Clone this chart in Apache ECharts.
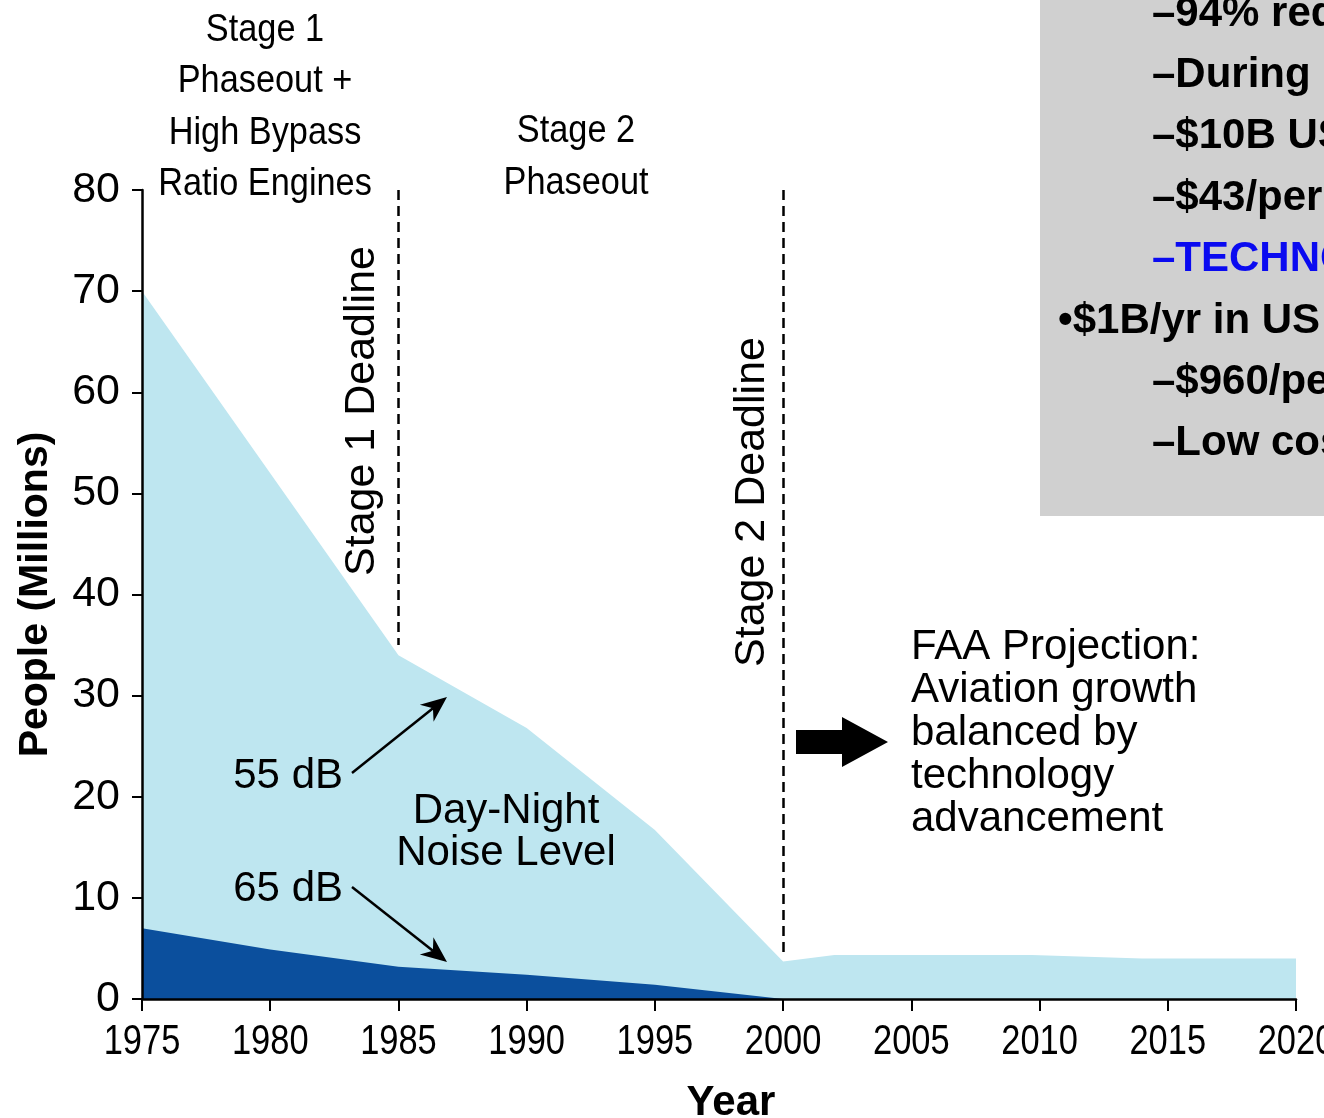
<!DOCTYPE html>
<html>
<head>
<meta charset="utf-8">
<title>People exposed to aircraft noise</title>
<script src="https://cdn.jsdelivr.net/npm/echarts@6/dist/echarts.min.js"></script>
<style>
  html, body { margin: 0; padding: 0; background: #fff; }
  #main { width: 1324px; height: 1118px; }
</style>
</head>
<body>
<div id="main"></div>
<script>
// 55 dB contour (light area), years and people in millions
var years55 = [1975, 1985, 1990, 1995, 2000, 2002, 2009.7, 2014, 2020];
var people55 = [70, 34, 26.8, 16.7, 3.7, 4.35, 4.35, 4.0, 4.0];
// 65 dB contour (dark area)
var years65 = [1975, 1980, 1985, 1990, 1995, 2000];
var people65 = [7.0, 4.9, 3.2, 2.4, 1.4, 0];
// deadlines (dashed verticals): year, lower end, upper end
var deadlineYears = [1985, 2000];
var deadlineLow = [35, 4.6];
var deadlineHigh = [80, 80];
// x tick labels
var yearTicks = [1975, 1980, 1985, 1990, 1995, 2000, 2005, 2010, 2015, 2020];

var boxLines = [
  '\u201394% reduction',
  '\u2013During 1975',
  '\u2013$10B US',
  '\u2013$43/person',
  '\u2013TECHNOLOGY',
  '\u2022$1B/yr in US',
  '\u2013$960/person',
  '\u2013Low cost'
];

var SANS = '"Liberation Sans", Arial, Helvetica, sans-serif';

function pairs(xs, ys) {
  var out = [];
  for (var i = 0; i < xs.length; i++) out.push([xs[i], ys[i]]);
  return out;
}

var myChart = echarts.init(document.getElementById('main'));

function txt(text, x, y, opts) {
  opts = opts || {};
  return {
    type: 'text',
    x: x, y: y,
    rotation: opts.rotation || 0,
    scaleX: opts.scaleX || 1,
    z: 100,
    style: {
      text: text,
      fill: opts.color || '#000',
      font: (opts.weight || 'normal') + ' ' + (opts.size || 42) + 'px ' + SANS,
      align: opts.align || 'center',
      verticalAlign: 'middle',
      lineHeight: opts.lineHeight || 42
    }
  };
}

function arrow(x1, y1, x2, y2) {
  var dx = x2 - x1, dy = y2 - y1;
  var len = Math.sqrt(dx * dx + dy * dy);
  var ux = dx / len, uy = dy / len;
  var hl = 26, hw = 11, notch = 8;
  var bx = x2 - ux * hl, by = y2 - uy * hl;
  var nx = x2 - ux * (hl - notch), ny = y2 - uy * (hl - notch);
  return [
    { type: 'line', z: 100, shape: { x1: x1, y1: y1, x2: nx, y2: ny },
      style: { stroke: '#000', lineWidth: 2.5 } },
    { type: 'polygon', z: 100,
      shape: { points: [[x2, y2], [bx - uy * hw, by + ux * hw], [nx, ny], [bx + uy * hw, by - ux * hw]] },
      style: { fill: '#000' } }
  ];
}

var graphics = [];
// grey text box, top right
graphics.push({ type: 'rect', z: 90, shape: { x: 1040, y: 0, width: 300, height: 516 }, style: { fill: '#d0d0d0' } });
boxLines.forEach(function (line, i) {
  var isBullet = line.charAt(0) === '\u2022';
  graphics.push(txt(line, isBullet ? 1058 : 1152, 14 + i * 61.4, {
    align: 'left', weight: 'bold', size: 42,
    color: i === 4 ? '#0a0af0' : '#000'
  }));
});

// header annotations
graphics.push(txt('Stage 1\nPhaseout +\nHigh Bypass\nRatio Engines', 265, 107, { size: 39, scaleX: 0.88, lineHeight: 51.5 }));
graphics.push(txt('Stage 2\nPhaseout', 576, 157, { size: 39, scaleX: 0.88, lineHeight: 52 }));
graphics.push(txt('Stage 1 Deadline', 362, 411, { rotation: Math.PI / 2, size: 43 }));
graphics.push(txt('Stage 2 Deadline', 752, 502, { rotation: Math.PI / 2, size: 43 }));
graphics.push(txt('55 dB', 343, 776, { align: 'right' }));
graphics.push(txt('65 dB', 343, 889, { align: 'right' }));
graphics.push(txt('Day-Night\nNoise Level', 506, 832, { lineHeight: 42 }));
graphics.push(txt('FAA Projection:\nAviation growth\nbalanced by\ntechnology\nadvancement', 911, 733, { align: 'left', lineHeight: 43 }));
graphics = graphics.concat(arrow(352, 773, 447, 697));
graphics = graphics.concat(arrow(352, 887, 447, 962));
// block arrow
graphics.push({ type: 'polygon', z: 100,
  shape: { points: [[796, 730], [842, 730], [842, 717], [888, 742], [842, 767], [842, 754], [796, 754]] },
  style: { fill: '#000' } });

var deadlineLines = deadlineYears.map(function (yr, i) {
  return [{ coord: [yr, deadlineHigh[i]] }, { coord: [yr, deadlineLow[i]] }];
});

var option = {
  animation: false,
  backgroundColor: '#fff',
  grid: { left: 142, right: 28, top: 190, bottom: 119, containLabel: false, outerBoundsMode: 'none' },
  xAxis: {
    type: 'value',
    min: 1975, max: 2020, interval: 5,
    z: 10,
    name: 'Year',
    nameLocation: 'middle',
    nameGap: 83,
    nameTextStyle: { fontFamily: SANS, fontWeight: 'bold', fontSize: 42, color: '#000', padding: [0, 0, 0, 24] },
    axisLine: { lineStyle: { color: '#000', width: 2.5 } },
    axisTick: { length: 12, lineStyle: { color: '#000', width: 2 } },
    // tick labels are drawn condensed below, from the same scale
    axisLabel: { show: false },
    splitLine: { show: false }
  },
  yAxis: {
    type: 'value',
    min: 0, max: 80, interval: 10,
    z: 10,
    name: 'People (Millions)',
    nameLocation: 'middle',
    nameGap: 86,
    nameTextStyle: { fontFamily: SANS, fontWeight: 'bold', fontSize: 41, color: '#000' },
    axisLine: { show: true, lineStyle: { color: '#000', width: 2.5 } },
    axisTick: { show: true, length: 10, lineStyle: { color: '#000', width: 2 } },
    axisLabel: { margin: 22, fontFamily: SANS, fontSize: 43, color: '#000' },
    splitLine: { show: false }
  },
  series: [
    {
      name: '55 dB',
      type: 'line',
      data: pairs(years55, people55),
      symbol: 'none',
      lineStyle: { width: 0 },
      areaStyle: { color: '#bee6f0', opacity: 1 },
      z: 1,
      markLine: {
        silent: true,
        symbol: 'none',
        label: { show: false },
        lineStyle: { color: '#000', type: [10, 6], width: 2.5 },
        data: deadlineLines
      }
    },
    {
      name: '65 dB',
      type: 'line',
      data: pairs(years65, people65),
      symbol: 'none',
      lineStyle: { width: 0 },
      areaStyle: { color: '#0b4f9d', opacity: 1 },
      z: 2
    }
  ]
};

myChart.setOption(option);

// condensed year labels under the x axis ticks
var axisY = myChart.convertToPixel({ yAxisIndex: 0 }, 0);
yearTicks.forEach(function (yr) {
  var px = myChart.convertToPixel({ xAxisIndex: 0 }, yr);
  graphics.push(txt(String(yr), px, axisY + 43, { size: 42, scaleX: 0.82 }));
});

myChart.setOption({ graphic: graphics });
</script>
</body>
</html>
